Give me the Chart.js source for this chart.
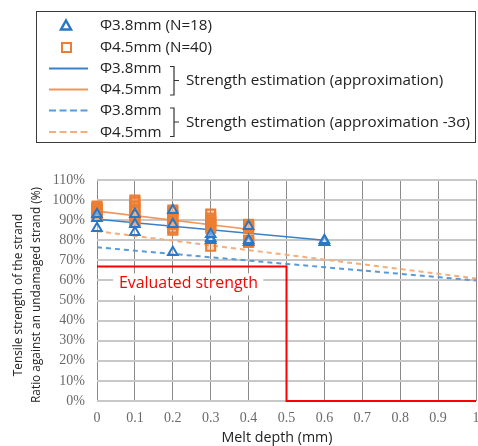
<!DOCTYPE html>
<html>
<head>
<meta charset="utf-8">
<script src="https://cdn.jsdelivr.net/npm/chart.js@4.4.0/dist/chart.umd.min.js"></script>
<style>
  html, body { margin: 0; padding: 0; background: #fff; }
  #wrap { width: 478px; height: 446px; }
</style>
</head>
<body>
<div id="wrap"><canvas id="chart" width="478" height="446"></canvas></div>
<script>
// ==================== Data ====================
const depthTicks = [0, 0.1, 0.2, 0.3, 0.4, 0.5, 0.6, 0.7, 0.8, 0.9, 1];
const ratioTicks = [0, 10, 20, 30, 40, 50, 60, 70, 80, 90, 100, 110];

// Φ3.8mm samples (N=18)
const tri38Depth = [0, 0, 0, 0.1, 0.1, 0.1, 0.2, 0.2, 0.2, 0.3, 0.3, 0.3, 0.4, 0.4, 0.4, 0.6, 0.6, 0.6];
const tri38Ratio = [86, 91, 93, 84, 88, 93, 74, 88, 95, 80, 81, 83, 79, 80, 87, 79, 79, 80];

// Φ4.5mm samples (N=40)
const sq45Depth = [0, 0, 0, 0, 0, 0, 0, 0,
                   0.1, 0.1, 0.1, 0.1, 0.1, 0.1, 0.1, 0.1,
                   0.2, 0.2, 0.2, 0.2, 0.2, 0.2, 0.2, 0.2,
                   0.3, 0.3, 0.3, 0.3, 0.3, 0.3, 0.3, 0.3,
                   0.4, 0.4, 0.4, 0.4, 0.4, 0.4, 0.4, 0.4];
const sq45Ratio = [92, 93, 94, 95, 95, 96, 96, 97,
                   89, 90, 92, 94, 95, 97, 99, 100,
                   85, 86, 88, 89, 91, 92, 94, 95,
                   77, 86, 87, 88, 89, 90, 91, 93,
                   79, 79, 80, 80, 86, 87, 87, 88];

// strength estimation (approximation)
const fit38Depth = [0, 0.6];
const fit38Ratio = [90.5, 80];
const fit45Depth = [0, 0.4];
const fit45Ratio = [94.5, 85.5];

// strength estimation (approximation -3σ)
const low38Depth = [0, 1];
const low38Ratio = [76.5, 60];
const low45Depth = [0, 1];
const low45Ratio = [84.5, 61];

// evaluated strength
const evalDepth = [0, 0.5, 0.5, 1];
const evalRatio = [67, 67, 0, 0];

// ==================== Style ====================
const BLUE = '#2A77C6';
const BLUE_LINE = '#3A80C8';
const BLUE_DASH = '#5A9AD8';
const ORANGE = '#ED7D31';
const ORANGE_LINE = '#F0965A';
const ORANGE_DASH = '#F4AE7C';
const RED = '#FF0000';
const SANS = '"Open Sans", "Noto Sans", sans-serif';
const SERIF = '"Liberation Serif", "DejaVu Serif", serif';

function pts(xs, ys) { return xs.map((x, i) => ({ x: x, y: ys[i] })); }

// font size so that text is roughly targetW wide
function fitSize(ctx, text, family, targetW) {
    ctx.font = '20px ' + family;
    return 20 * targetW / ctx.measureText(text).width;
}

function drawLegend(ctx) {
    ctx.save();
    ctx.strokeStyle = '#3a3a3a';
    ctx.lineWidth = 1;
    ctx.strokeRect(36.5, 11.5, 439, 131);

    // markers
    ctx.lineWidth = 2.5;
    ctx.strokeStyle = BLUE;
    ctx.beginPath();
    ctx.moveTo(66, 20.5); ctx.lineTo(71, 29.5); ctx.lineTo(61, 29.5); ctx.closePath();
    ctx.stroke();
    ctx.lineWidth = 2;
    ctx.strokeStyle = ORANGE;
    ctx.strokeRect(62, 43, 9, 9);

    // line samples
    const seg = (y, col, dash) => {
        ctx.beginPath();
        ctx.setLineDash(dash);
        ctx.strokeStyle = col;
        ctx.lineWidth = 2;
        ctx.moveTo(49, y); ctx.lineTo(88, y);
        ctx.stroke();
        ctx.setLineDash([]);
    };
    seg(68.5, BLUE_LINE, []);
    seg(89.5, ORANGE_LINE, []);
    seg(110.5, BLUE_DASH, [7, 3.5]);
    seg(132, ORANGE_DASH, [7, 3.5]);

    // braces
    const brace = (top, bot, mid) => {
        ctx.beginPath();
        ctx.strokeStyle = '#333';
        ctx.lineWidth = 1.2;
        ctx.moveTo(170, top); ctx.lineTo(174, top); ctx.lineTo(174, bot); ctx.lineTo(170, bot);
        ctx.moveTo(174, mid); ctx.lineTo(179, mid);
        ctx.stroke();
    };
    brace(66.5, 95, 80.5);
    brace(108, 136.5, 122);

    // texts
    const size = fitSize(ctx, 'Strength estimation (approximation -3σ)', SANS, 284);
    ctx.font = size.toFixed(2) + 'px ' + SANS;
    ctx.fillStyle = '#222';
    ctx.textBaseline = 'middle';
    ctx.textAlign = 'left';
    ctx.fillText('Φ3.8mm (N=18)', 100, 25.5);
    ctx.fillText('Φ4.5mm (N=40)', 100, 47.5);
    ctx.fillText('Φ3.8mm', 100, 68.5);
    ctx.fillText('Φ4.5mm', 100, 90);
    ctx.fillText('Strength estimation (approximation)', 186, 80.5);
    ctx.fillText('Φ3.8mm', 100, 111);
    ctx.fillText('Φ4.5mm', 100, 132.5);
    ctx.fillText('Strength estimation (approximation -3σ)', 186, 122.5);
    ctx.restore();
}

const annotate = {
    id: 'annotate',
    beforeDraw(chart) {
        const ctx = chart.ctx;
        drawLegend(ctx);

        ctx.save();
        ctx.fillStyle = '#222';
        ctx.textAlign = 'center';
        ctx.textBaseline = 'middle';
        // x title
        let s = fitSize(ctx, 'Melt depth (mm)', SANS, 111);
        ctx.font = s.toFixed(2) + 'px ' + SANS;
        ctx.fillText('Melt depth (mm)', 277, 437.5);
        // y title (two lines)
        s = fitSize(ctx, 'Ratio against an undamaged strand (%)', SANS, 216);
        ctx.font = s.toFixed(2) + 'px ' + SANS;
        ctx.translate(0, 295);
        ctx.rotate(-Math.PI / 2);
        ctx.fillText('Tensile strength of the strand', 0, 19);
        ctx.fillText('Ratio against an undamaged strand (%)', 0, 37);
        ctx.restore();
    },
    beforeDatasetsDraw(chart) {
        const ctx = chart.ctx;
        const xs = chart.scales.x, ys = chart.scales.y;
        ctx.save();
        ctx.fillStyle = '#fff';
        const left = xs.getPixelForValue(0.043);
        ctx.fillRect(left, ys.getPixelForValue(63.5), 150, 22);
        const s = fitSize(ctx, 'Evaluated strength', SANS, 139);
        ctx.font = s.toFixed(2) + 'px ' + SANS;
        ctx.fillStyle = RED;
        ctx.textAlign = 'left';
        ctx.textBaseline = 'middle';
        ctx.fillText('Evaluated strength', 119, ys.getPixelForValue(58.3));
        ctx.restore();
    }
};

// ==================== Chart ====================
const ctx = document.getElementById('chart').getContext('2d');
new Chart(ctx, {
    type: 'scatter',
    data: {
        datasets: [
            { label: 'Φ3.8mm (N=18)', data: pts(tri38Depth, tri38Ratio), pointStyle: 'triangle',
              pointRadius: 5.5, borderColor: BLUE, borderWidth: 2, backgroundColor: 'rgba(255,255,255,0.35)' },
            { label: 'Φ4.5mm (N=40)', data: pts(sq45Depth, sq45Ratio), pointStyle: 'rect',
              pointRadius: 6.3, borderColor: ORANGE, borderWidth: 2.2, backgroundColor: 'rgba(237,125,49,0.3)' },
            { label: 'Φ3.8mm approx', data: pts(fit38Depth, fit38Ratio), showLine: true, pointRadius: 0,
              borderColor: BLUE_LINE, borderWidth: 1.6 },
            { label: 'Φ4.5mm approx', data: pts(fit45Depth, fit45Ratio), showLine: true, pointRadius: 0,
              borderColor: ORANGE_LINE, borderWidth: 1.6 },
            { label: 'Φ3.8mm -3σ', data: pts(low38Depth, low38Ratio), showLine: true, pointRadius: 0,
              borderColor: BLUE_DASH, borderWidth: 2, borderDash: [5, 4] },
            { label: 'Φ4.5mm -3σ', data: pts(low45Depth, low45Ratio), showLine: true, pointRadius: 0,
              borderColor: ORANGE_DASH, borderWidth: 2, borderDash: [5, 4] },
            { label: 'Evaluated strength', data: pts(evalDepth, evalRatio), showLine: true, pointRadius: 0,
              borderColor: RED, borderWidth: 2, fill: false }
        ]
    },
    options: {
        responsive: false,
        animation: false,
        devicePixelRatio: 1,
        clip: false,
        layout: { autoPadding: false, padding: { top: 180, right: 2, left: 0, bottom: 0 } },
        plugins: { legend: { display: false }, tooltip: { enabled: false } },
        scales: {
            x: {
                type: 'linear', min: 0, max: 1,
                afterFit: s => { s.height = 45; s.paddingLeft = 0; s.paddingRight = 0; },
                afterBuildTicks: s => { s.ticks = depthTicks.map(v => ({ value: v })); },
                ticks: {
                    font: { family: SERIF, size: 14 }, color: '#6a6a6a', padding: 9, maxRotation: 0,
                    callback: v => String(Math.round(v * 10) / 10)
                },
                grid: { color: '#8a8a8a', lineWidth: 1, drawTicks: false },
                border: { display: false }
            },
            y: {
                min: 0, max: 110,
                afterFit: s => { s.width = 97; s.paddingTop = 0; s.paddingBottom = 0; },
                afterBuildTicks: s => { s.ticks = ratioTicks.map(v => ({ value: v })); },
                ticks: {
                    font: { family: SERIF, size: 14 }, color: '#6a6a6a', padding: 12,
                    callback: v => v + '%'
                },
                grid: { color: '#c8c8c8', lineWidth: 2, drawTicks: false },
                border: { display: false }
            }
        }
    },
    plugins: [annotate]
});
</script>
</body>
</html>
